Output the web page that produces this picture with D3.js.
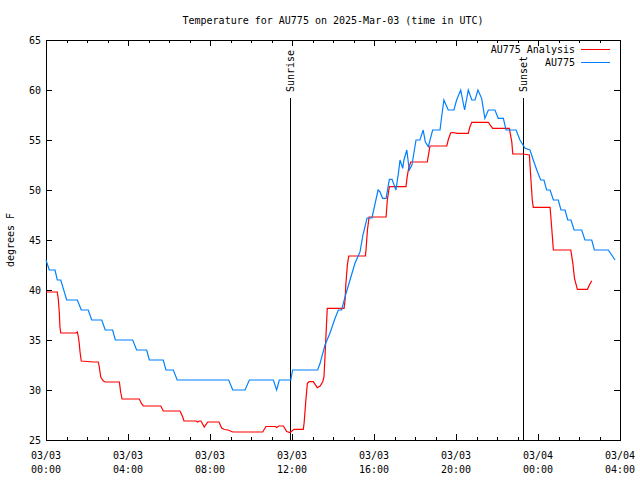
<!DOCTYPE html>
<html>
<head>
<meta charset="utf-8">
<script src="https://cdn.jsdelivr.net/npm/d3@7"></script>
<style>
html,body{margin:0;padding:0;background:#fff;}
svg{display:block;}
text{font-family:"DejaVu Sans Mono","Liberation Mono",monospace;font-size:10px;fill:#000;}
</style>
</head>
<body>
<svg id="chart" width="640" height="480"></svg>
<script>
// ---- data (hours after 2025-03-03 00:00 UTC) ----
const titleText = "Temperature for AU775 on 2025-Mar-03 (time in UTC)";
const yLabel = "degrees F";
const seriesNames = ["AU775 Analysis", "AU775"];
const yTicks = [25, 30, 35, 40, 45, 50, 55, 60, 65];
const xTickHours = [0, 4, 8, 12, 16, 20, 24, 28];

const obsHours = [0,0.16,0.44,0.55,0.72,1.01,1.53,1.72,2.06,2.23,2.72,2.89,3.25,3.38,4.23,4.42,4.91,5.04,5.72,5.85,6.21,6.40,8.91,9.11,9.71,9.92,11.09,11.25,11.38,11.94,12.03,13.25,13.37,13.61,13.85,14.10,14.26,14.42,14.59,14.83,15.07,15.32,15.46,15.66,15.90,16.20,16.29,16.42,16.59,16.75,16.88,17.07,17.19,17.27,17.40,17.46,17.60,17.72,17.85,18.05,18.24,18.40,18.50,18.65,18.86,19.22,19.30,19.41,19.62,19.90,20.03,20.23,20.42,20.60,20.77,20.93,21.07,21.25,21.41,21.58,21.90,22.06,22.31,22.44,22.93,23.12,23.37,23.61,23.77,23.94,24.13,24.29,24.42,24.59,24.75,24.99,25.12,25.32,25.45,25.61,25.76,26.13,26.29,26.62,26.75,27.43,27.76];
const obsTemps = [43,42,42,41,41,39,39,38,38,37,37,36,36,35,35,34,34,33,33,32,32,31,31,30,30,31,31,30,31,31,32,32,32.67,34.5,35.67,37.17,38,38,39.33,41,42.67,43.83,45.5,47.2,47.2,50,49.83,49.17,49.17,51.07,51.07,50,51.67,53,52.17,53,54,52,52.5,55,55,56,54.83,54.33,56,56,57.33,59,58,58,59,60,58,60,59,59,60,59.17,57.17,58,58,57.17,57.17,56,56,55,54.17,54,53,52,51,51,50,50,49,49,48,48,47,47,46,46,45,45,44,44,43];

const anaHours = [0,0.55,0.60,0.65,0.68,0.72,1.46,1.53,1.58,1.62,1.66,1.72,2.31,2.55,2.60,2.67,2.80,2.89,3.58,3.64,3.71,4.55,4.67,4.75,5.60,5.72,6.54,6.67,6.73,7.32,7.39,7.48,7.56,7.72,7.89,8.44,8.57,8.70,8.88,9.11,10.57,10.73,11.19,11.25,11.35,11.58,11.74,11.90,12.10,12.55,12.59,12.67,12.75,12.84,13.04,13.23,13.37,13.50,13.56,13.64,13.72,14.54,14.59,14.63,14.70,14.77,15.58,15.61,15.68,15.76,16.59,16.65,16.75,17.56,17.62,17.69,17.79,18.60,18.67,18.73,19.55,19.62,19.74,19.85,20.06,20.60,20.68,20.77,21.58,21.66,21.79,22.60,22.72,22.77,23.28,23.58,23.64,23.72,23.77,24.59,24.67,24.75,25.60,25.70,25.78,25.92,26.41,26.51,26.62];
const anaTemps = [39.8,39.8,39.1,37.7,36.3,35.7,35.7,35.8,35.3,34.7,33.8,32.9,32.8,32.8,32.3,31.3,30.9,30.8,30.8,29.8,29.1,29.1,28.6,28.4,28.4,27.9,27.9,27.3,26.9,26.9,26.8,26.9,26.9,26.3,26.8,26.8,26.2,26.05,26.0,25.8,25.8,26.35,26.35,26.25,26.4,26.4,25.85,25.75,26.07,26.07,26.67,28.83,30.67,30.83,30.83,30.23,30.4,30.83,31.33,34.67,38.17,38.17,39,40.67,42.5,43.4,43.4,44,46,47.3,47.3,49,50.33,50.33,51.33,52.17,52.8,52.8,53.67,54.4,54.4,55,55.73,55.75,55.67,55.67,56.33,56.77,56.77,56.5,56.17,56.17,54.83,53.6,53.6,53.5,51.5,49,48.27,48.27,46.17,44,44,42.67,41.17,40.07,40.07,40.5,40.93];

const eventNames = ["Sunrise", "Sunset"];
const eventHours = [11.90, 23.27];

// ---- layout ----
const W = 640, H = 480;
const m = {left: 46, right: 20, top: 40, bottom: 40};
const base = Date.UTC(2025, 2, 3, 0, 0);
const toDate = h => new Date(base + h * 3600e3);

const svg = d3.select("#chart");
const x = d3.scaleUtc().domain([toDate(0), toDate(28)]).range([m.left, W - m.right]);
const y = d3.scaleLinear().domain([25, 65]).range([H - m.bottom, m.top]);

const colors = ["#ff0000", "#0080ff"];

svg.append("rect").attr("width", W).attr("height", H).attr("fill", "#fff");

// title
svg.append("text").attr("x", (m.left + W - m.right) / 2).attr("y", 24)
  .attr("text-anchor", "middle").text(titleText);

// y label
svg.append("text").attr("transform", `translate(14,${(m.top + H - m.bottom) / 2}) rotate(-90)`)
  .attr("text-anchor", "middle").text(yLabel);

const minorTicks = d3.utcHour.every(1).range(toDate(0), toDate(28.01));
const majorTicks = xTickHours.map(toDate);

const gB = svg.append("g").attr("transform", `translate(0,${H - m.bottom})`)
  .call(d3.axisBottom(x).tickValues(minorTicks).tickSize(-3).tickFormat(""));
const gB2 = svg.append("g").attr("transform", `translate(0,${H - m.bottom})`)
  .call(d3.axisBottom(x).tickValues(majorTicks).tickSize(-6).tickPadding(10).tickFormat(""));
const gT = svg.append("g").attr("transform", `translate(0,${m.top})`)
  .call(d3.axisTop(x).tickValues(minorTicks).tickSize(-3).tickFormat(""));
const gT2 = svg.append("g").attr("transform", `translate(0,${m.top})`)
  .call(d3.axisTop(x).tickValues(majorTicks).tickSize(-6).tickFormat(""));
const gL = svg.append("g").attr("transform", `translate(${m.left},0)`)
  .call(d3.axisLeft(y).tickValues(yTicks).tickSize(-6).tickPadding(5).tickFormat(d3.format("d")));
const gR = svg.append("g").attr("transform", `translate(${W - m.right},0)`)
  .call(d3.axisRight(y).tickValues(yTicks).tickSize(-6).tickFormat(""));

[gB, gB2, gT, gT2, gL, gR].forEach(g => {
  g.attr("font-family", null).attr("font-size", null);
  g.selectAll(".domain").remove();
  g.selectAll("line").attr("stroke", "#000").attr("shape-rendering", "crispEdges");
  g.selectAll("text").attr("fill", "#000");
});
gL.selectAll("text").attr("dy", "0.35em");

// x labels (two lines)
const fmtD = d3.utcFormat("%m/%d"), fmtT = d3.utcFormat("%H:%M");
const xl = svg.append("g");
majorTicks.forEach(d => {
  const t = xl.append("text").attr("text-anchor", "middle");
  t.append("tspan").attr("x", x(d)).attr("y", 459).text(fmtD(d));
  t.append("tspan").attr("x", x(d)).attr("y", 473).text(fmtT(d));
});

// frame
svg.append("rect").attr("x", m.left + 0.5).attr("y", m.top + 0.5)
  .attr("width", W - m.left - m.right).attr("height", H - m.top - m.bottom)
  .attr("fill", "none").attr("stroke", "#000").attr("shape-rendering", "crispEdges");

// sunrise / sunset
eventHours.forEach((h, i) => {
  const xx = Math.round(x(toDate(h))) + 0.5;
  svg.append("line").attr("x1", xx).attr("x2", xx).attr("y1", 98).attr("y2", H - m.bottom)
    .attr("stroke", "#000").attr("shape-rendering", "crispEdges");
  svg.append("text").attr("transform", `translate(${xx + 3.5},92) rotate(-90)`)
    .attr("text-anchor", "start").text(eventNames[i]);
});

// series lines
const line = d3.line().x(d => x(toDate(d[0]))).y(d => y(d[1]));
const anaData = anaHours.map((h, i) => [h, anaTemps[i]]);
const obsData = obsHours.map((h, i) => [h, obsTemps[i]]);
svg.append("path").datum(anaData).attr("d", line).attr("fill", "none")
  .attr("stroke", colors[0]).attr("stroke-width", 1.2);
svg.append("path").datum(obsData).attr("d", line).attr("fill", "none")
  .attr("stroke", colors[1]).attr("stroke-width", 1.2);

// legend
seriesNames.forEach((n, i) => {
  const ly = 49 + i * 13;
  svg.append("text").attr("x", 575).attr("y", ly).attr("dy", "0.35em")
    .attr("text-anchor", "end").text(n);
  svg.append("line").attr("x1", 581).attr("x2", 610).attr("y1", ly + 0.5).attr("y2", ly + 0.5)
    .attr("stroke", colors[i]).attr("shape-rendering", "crispEdges");
});
</script>
</body>
</html>
